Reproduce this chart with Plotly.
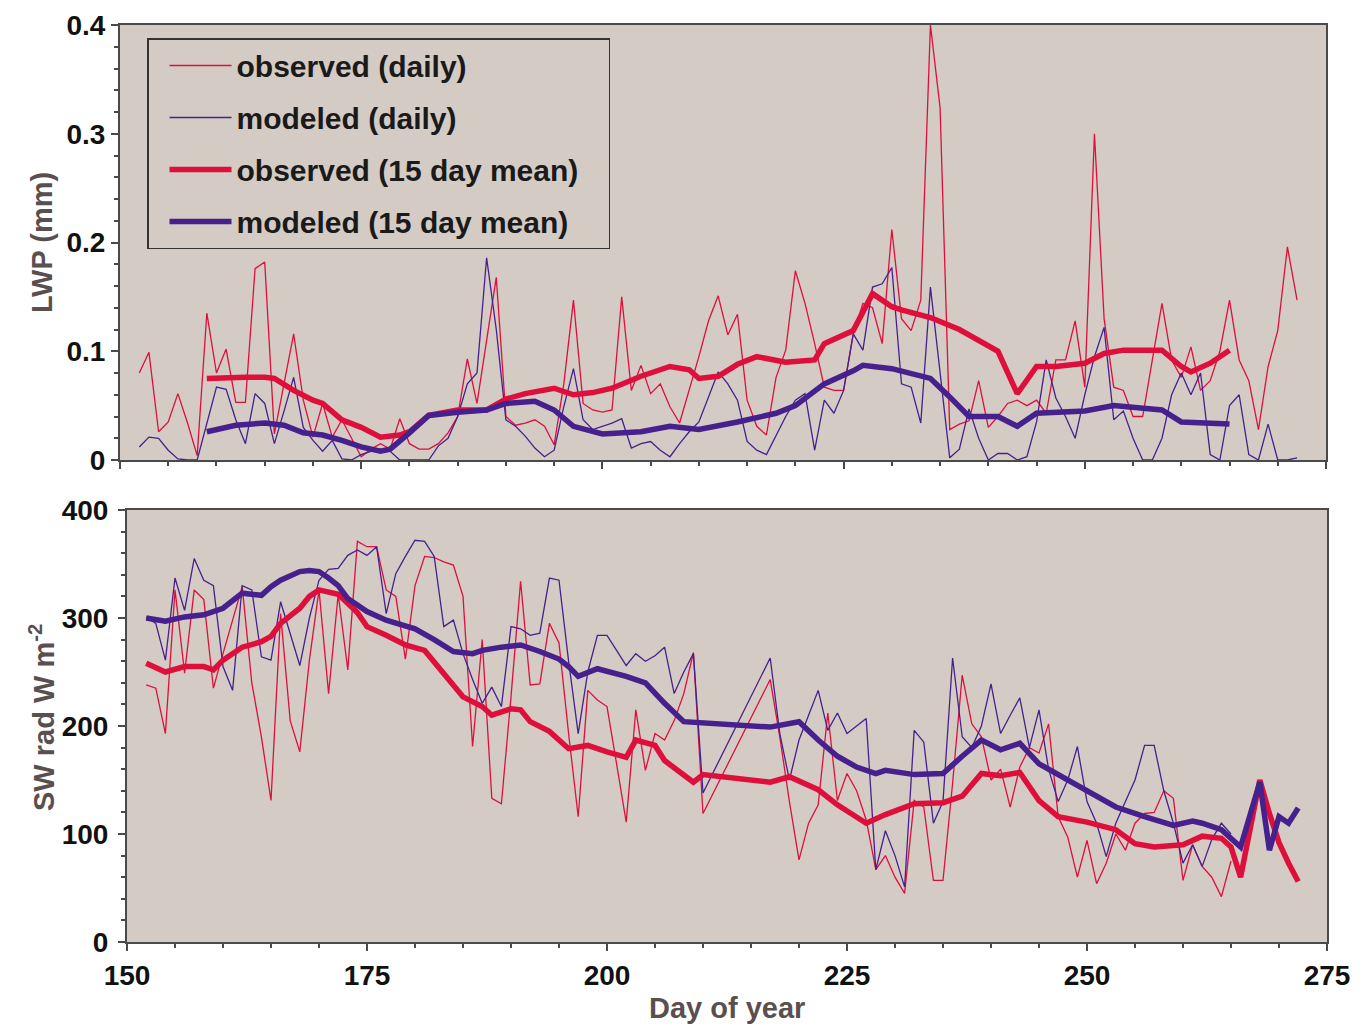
import plotly.graph_objects as go

# ---------------- data ----------------
lwp_days = [152, 153, 154, 155, 156, 157, 158, 159, 160, 161, 162, 163, 164, 165, 166, 167, 168, 169, 170,
            171, 172, 173, 174, 175, 176, 177, 178, 179, 180, 181, 182, 183, 184, 185, 186, 187, 188, 189,
            190, 191, 192, 193, 194, 195, 196, 197, 198, 199, 200, 201, 202, 203, 204, 205, 206, 207, 208,
            209, 210, 211, 212, 213, 214, 215, 216, 217, 218, 219, 220, 221, 222, 223, 224, 225, 226, 227,
            228, 229, 230, 231, 232, 233, 234, 235, 236, 237, 238, 239, 240, 241, 242, 243, 244, 245, 246,
            247, 248, 249, 250, 251, 252, 253, 254, 255, 256, 257, 258, 259, 260, 261, 262, 263, 264, 265,
            266, 267, 268, 269, 270, 271, 272]

lwp_obs_daily = [0.080, 0.099, 0.026, 0.035, 0.061, 0.034, 0.004, 0.135, 0.080, 0.102, 0.053, 0.053, 0.176,
                 0.182, 0.024, 0.070, 0.116, 0.055, 0.021, 0.052, 0.021, 0.037, 0.020, 0.003, 0.010, 0.015,
                 0.010, 0.038, 0.015, 0.010, 0.010, 0.015, 0.025, 0.040, 0.093, 0.052, 0.110, 0.168, 0.040,
                 0.032, 0.034, 0.037, 0.031, 0.014, 0.070, 0.147, 0.052, 0.046, 0.044, 0.046, 0.150, 0.064,
                 0.087, 0.061, 0.070, 0.049, 0.034, 0.064, 0.095, 0.128, 0.151, 0.115, 0.134, 0.055, 0.031,
                 0.023, 0.076, 0.101, 0.174, 0.144, 0.107, 0.067, 0.064, 0.064, 0.116, 0.144, 0.140, 0.107,
                 0.212, 0.130, 0.119, 0.147, 0.400, 0.324, 0.028, 0.033, 0.036, 0.073, 0.030, 0.040, 0.052,
                 0.055, 0.050, 0.055, 0.043, 0.092, 0.092, 0.128, 0.067, 0.300, 0.130, 0.067, 0.064, 0.040,
                 0.040, 0.092, 0.144, 0.092, 0.076, 0.104, 0.064, 0.073, 0.100, 0.147, 0.092, 0.073, 0.028,
                 0.086, 0.119, 0.196, 0.147]

lwp_mod_daily = [0.012, 0.021, 0.020, 0.009, 0.001, 0.000, 0.000, 0.034, 0.067, 0.065, 0.037, 0.015, 0.061,
                 0.052, 0.015, 0.045, 0.076, 0.030, 0.018, 0.008, 0.018, 0.001, 0.000, 0.005, 0.008, 0.010,
                 0.008, 0.000, 0.000, 0.000, 0.000, 0.013, 0.020, 0.040, 0.070, 0.080, 0.186, 0.120, 0.037,
                 0.031, 0.022, 0.011, 0.003, 0.009, 0.049, 0.084, 0.037, 0.028, 0.031, 0.034, 0.038, 0.011,
                 0.015, 0.017, 0.009, 0.003, 0.015, 0.026, 0.035, 0.058, 0.081, 0.070, 0.055, 0.017, 0.009,
                 0.005, 0.022, 0.040, 0.055, 0.061, 0.009, 0.055, 0.043, 0.064, 0.116, 0.101, 0.159, 0.162,
                 0.177, 0.070, 0.067, 0.034, 0.159, 0.080, 0.002, 0.010, 0.047, 0.020, 0.000, 0.006, 0.006,
                 0.000, 0.003, 0.035, 0.092, 0.057, 0.040, 0.020, 0.060, 0.095, 0.122, 0.037, 0.045, 0.020,
                 0.000, 0.000, 0.020, 0.060, 0.080, 0.060, 0.080, 0.005, 0.000, 0.050, 0.060, 0.005, 0.000,
                 0.033, 0.000, 0.000, 0.002]

lwp_obs_mean_days = [159, 161, 163, 165, 166, 168, 170, 171, 173, 175, 177, 179, 180, 182, 185, 188, 190,
                     192, 195, 197, 199, 201, 204, 207, 209, 210, 212, 214, 216, 219, 222, 223, 226, 228,
                     230, 231, 233, 234, 237, 239, 241, 243, 245, 247, 250, 252, 254, 258, 260, 261, 263, 265]
lwp_obs_mean = [0.075, 0.076, 0.076, 0.076, 0.075, 0.064, 0.055, 0.052, 0.037, 0.030, 0.021, 0.023, 0.026,
                0.041, 0.046, 0.046, 0.056, 0.061, 0.066, 0.060, 0.062, 0.066, 0.077, 0.086, 0.083, 0.075,
                0.077, 0.088, 0.095, 0.090, 0.092, 0.107, 0.119, 0.153, 0.141, 0.138, 0.134, 0.131, 0.120,
                0.110, 0.100, 0.061, 0.086, 0.086, 0.089, 0.098, 0.101, 0.101, 0.086, 0.081, 0.089, 0.101]

lwp_mod_mean_days = [159, 162, 165, 167, 169, 171, 173, 175, 177, 178, 180, 182, 185, 188, 190, 193, 195,
                     197, 200, 204, 207, 210, 214, 218, 220, 223, 226, 227, 230, 233, 234, 236, 238, 241,
                     243, 245, 250, 253, 258, 260, 265]
lwp_mod_mean = [0.026, 0.032, 0.034, 0.032, 0.025, 0.023, 0.018, 0.012, 0.008, 0.010, 0.025, 0.041, 0.044,
                0.046, 0.052, 0.054, 0.046, 0.031, 0.024, 0.026, 0.031, 0.028, 0.035, 0.043, 0.050, 0.070,
                0.082, 0.087, 0.084, 0.078, 0.075, 0.058, 0.040, 0.040, 0.031, 0.043, 0.045, 0.050, 0.046,
                0.035, 0.033]

sw_days = [152, 153, 154, 155, 156, 157, 158, 159, 160, 161, 162, 163, 164, 165, 166, 167, 168, 169, 170,
           171, 172, 173, 174, 175, 176, 177, 178, 179, 180, 181, 182, 183, 184, 185, 186, 187, 188, 189,
           190, 191, 192, 193, 194, 195, 196, 197, 198, 199, 200, 201, 202, 203, 204, 205, 206, 207, 208,
           209, 210, 217, 218, 219, 220, 221, 222, 223, 224, 225, 226, 227, 228, 229, 230, 231, 232, 233,
           234, 235, 236, 237, 238, 239, 240, 241, 242, 243, 244, 245, 246, 247, 248, 249, 250, 251, 252,
           253, 254, 255, 256, 257, 258, 259, 260, 261, 262, 263, 264, 265]

sw_obs_daily = [238, 235, 193, 326, 249, 326, 317, 235, 267, 298, 329, 240, 190, 131, 304, 205, 176, 261,
                326, 230, 322, 252, 371, 366, 366, 326, 320, 262, 330, 357, 356, 352, 349, 320, 181, 280,
                133, 128, 227, 334, 238, 239, 295, 277, 193, 116, 233, 224, 218, 165, 111, 215, 159, 193,
                187, 205, 230, 268, 119, 243, 190, 130, 76, 110, 127, 212, 131, 156, 140, 113, 67, 80, 60,
                45, 131, 125, 57, 57, 147, 247, 202, 190, 150, 160, 125, 162, 180, 175, 202, 116, 97, 60,
                94, 54, 73, 100, 85, 110, 119, 120, 140, 133, 57, 90, 70, 60, 42, 75]

sw_mod_daily = [301, 295, 261, 337, 307, 355, 335, 330, 255, 233, 330, 326, 264, 261, 315, 286, 256, 300,
                335, 345, 346, 358, 363, 358, 366, 304, 341, 357, 372, 371, 357, 292, 298, 267, 243, 221,
                236, 218, 292, 290, 284, 286, 337, 335, 260, 193, 250, 284, 284, 270, 256, 267, 260, 265,
                273, 230, 250, 267, 138, 263, 193, 150, 187, 210, 233, 196, 212, 193, 200, 207, 67, 103,
                80, 51, 196, 185, 110, 130, 263, 190, 180, 200, 239, 193, 210, 226, 180, 215, 160, 130, 150,
                181, 130, 110, 79, 110, 130, 150, 182, 182, 140, 110, 73, 90, 70, 95, 110, 100]

sw_obs_mean_days = [152, 154, 156, 158, 159, 160, 162, 164, 165, 166, 168, 169, 170, 172, 174, 175, 177,
                    179, 181, 183, 185, 187, 188, 190, 191, 192, 194, 196, 198, 200, 202, 203, 205, 206,
                    209, 210, 213, 217, 219, 222, 224, 227, 229, 232, 235, 237, 239, 241, 243, 245, 247,
                    250, 253, 255, 257, 260, 262, 264, 265, 266, 267, 268, 269, 270, 271, 272]
sw_obs_mean = [258, 250, 255, 255, 252, 261, 273, 278, 283, 295, 309, 320, 326, 322, 305, 292, 284, 275,
               270, 249, 227, 218, 210, 216, 215, 204, 195, 179, 182, 176, 171, 187, 182, 168, 148, 155, 152,
               148, 153, 141, 127, 110, 118, 128, 129, 135, 156, 154, 157, 131, 116, 111, 104, 91, 88, 90,
               98, 96, 88, 60, 105, 150, 119, 92, 73, 56]

sw_mod_mean_days = [152, 154, 156, 158, 160, 161, 162, 164, 165, 166, 168, 169, 170, 171, 172, 173, 175,
                    177, 179, 180, 182, 184, 186, 187, 189, 191, 193, 195, 196, 197, 199, 202, 204, 206,
                    208, 213, 217, 220, 222, 224, 226, 228, 229, 232, 235, 237, 239, 241, 243, 245, 248,
                    250, 253, 256, 259, 261, 262, 264, 266, 267, 268, 269, 270, 271, 272]
sw_mod_mean = [300, 297, 301, 303, 309, 316, 323, 321, 329, 335, 343, 344, 343, 337, 330, 318, 306, 298,
               292, 290, 280, 269, 267, 270, 273, 275, 269, 262, 255, 246, 253, 246, 240, 221, 204, 201, 199,
               204, 187, 172, 162, 156, 159, 155, 156, 172, 187, 178, 184, 165, 150, 141, 125, 116, 108, 112,
               110, 104, 88, 118, 148, 85, 116, 110, 124]

x_ticks = [150, 175, 200, 225, 250, 275]
lwp_ticks = [0, 0.1, 0.2, 0.3, 0.4]
lwp_tick_text = ["0", "0.1", "0.2", "0.3", "0.4"]
sw_ticks = [0, 100, 200, 300, 400]

assert len(lwp_days) == len(lwp_obs_daily) == len(lwp_mod_daily)
assert len(lwp_obs_mean_days) == len(lwp_obs_mean)
assert len(lwp_mod_mean_days) == len(lwp_mod_mean)
assert len(sw_days) == len(sw_obs_daily) == len(sw_mod_daily)
assert len(sw_obs_mean_days) == len(sw_obs_mean)
assert len(sw_mod_mean_days) == len(sw_mod_mean)

# ---------------- styling ----------------
W, H = 1367, 1027
RED = "#df0f3b"
BLUE = "#46208c"
BG = "#d4cbc4"
FRAME = "#4a4a4a"
TITLE_C = "#5a4f4f"
FONT = "Liberation Sans"
PAD = "\u00a0\u00a0\u00a0"  # trailing no-break spaces widen the legend box like the reference

fig = go.Figure()

# top panel
fig.add_trace(go.Scatter(x=lwp_days, y=lwp_obs_daily, mode="lines", name="observed (daily)",
                         legendgroup="g1", line=dict(color=RED, width=1.3), xaxis="x", yaxis="y"))
fig.add_trace(go.Scatter(x=lwp_days, y=lwp_mod_daily, mode="lines", name="modeled (daily)",
                         legendgroup="g2", line=dict(color=BLUE, width=1.3), xaxis="x", yaxis="y"))
fig.add_trace(go.Scatter(x=lwp_obs_mean_days, y=lwp_obs_mean, mode="lines",
                         name="observed (15 day mean)" + PAD,
                         legendgroup="g3", line=dict(color=RED, width=5.5), xaxis="x", yaxis="y"))
fig.add_trace(go.Scatter(x=lwp_mod_mean_days, y=lwp_mod_mean, mode="lines", name="modeled (15 day mean)",
                         legendgroup="g4", line=dict(color=BLUE, width=5.5), xaxis="x", yaxis="y"))

# bottom panel
fig.add_trace(go.Scatter(x=sw_days, y=sw_obs_daily, mode="lines", showlegend=False,
                         line=dict(color=RED, width=1.3), xaxis="x2", yaxis="y2"))
fig.add_trace(go.Scatter(x=sw_days, y=sw_mod_daily, mode="lines", showlegend=False,
                         line=dict(color=BLUE, width=1.3), xaxis="x2", yaxis="y2"))
fig.add_trace(go.Scatter(x=sw_obs_mean_days, y=sw_obs_mean, mode="lines", showlegend=False,
                         line=dict(color=RED, width=5.5), xaxis="x2", yaxis="y2"))
fig.add_trace(go.Scatter(x=sw_mod_mean_days, y=sw_mod_mean, mode="lines", showlegend=False,
                         line=dict(color=BLUE, width=5.5), xaxis="x2", yaxis="y2"))

tickfont = dict(family=FONT, size=28, color="#111111", weight="bold")
common_axis = dict(showgrid=False, zeroline=False, showline=True, mirror=True, linecolor=FRAME,
                   linewidth=2, ticks="outside", tickcolor=FRAME, tickwidth=1.5, ticklen=7,
                   tickfont=tickfont, automargin=False)

fig.update_layout(
    width=W, height=H,
    margin=dict(l=0, r=0, t=0, b=0, pad=0, autoexpand=False),
    paper_bgcolor="white",
    plot_bgcolor=BG,
    xaxis=dict(domain=[120 / W, 1326 / W], anchor="y", range=[150, 275], tickvals=x_ticks,
               showticklabels=False,
               minor=dict(dtick=5, ticklen=4, ticks="outside", tickcolor=FRAME), **common_axis),
    yaxis=dict(domain=[1 - 460 / H, 1 - 25 / H], anchor="x", range=[0, 0.4], tickvals=lwp_ticks,
               ticktext=lwp_tick_text, ticklabelstandoff=0,
               minor=dict(dtick=0.02, ticklen=4, ticks="outside", tickcolor=FRAME), **common_axis),
    xaxis2=dict(domain=[127 / W, 1327 / W], anchor="y2", range=[150, 275], tickvals=x_ticks,
                ticklabelstandoff=0,
                minor=dict(dtick=5, ticklen=4, ticks="outside", tickcolor=FRAME), **common_axis),
    yaxis2=dict(domain=[1 - 942 / H, 1 - 510 / H], anchor="x2", range=[0, 400], tickvals=sw_ticks,
                ticklabelstandoff=4,
                minor=dict(dtick=20, ticklen=4, ticks="outside", tickcolor=FRAME), **common_axis),
    legend=dict(x=147 / W, y=1 - 38 / H, xanchor="left", yanchor="top", bgcolor=BG,
                bordercolor="#333333", borderwidth=1.5, itemwidth=62, indentation=16,
                tracegroupgap=10,
                font=dict(family=FONT, size=30, color="#1a1a1a", weight="bold")),
    annotations=[
        dict(text="LWP (mm)", x=42 / W, y=1 - 243 / H, xref="paper", yref="paper", showarrow=False,
             textangle=-90, xanchor="center", yanchor="middle",
             font=dict(family=FONT, size=29, color=TITLE_C, weight="bold")),
        dict(text="SW rad W m<sup>-2</sup>", x=42 / W, y=1 - 718 / H, xref="paper", yref="paper",
             showarrow=False, textangle=-90, xanchor="center", yanchor="middle",
             font=dict(family=FONT, size=29, color=TITLE_C, weight="bold")),
        dict(text="Day of year", x=727 / W, y=1 - 1008 / H, xref="paper", yref="paper", showarrow=False,
             xanchor="center", yanchor="middle",
             font=dict(family=FONT, size=29, color=TITLE_C, weight="bold")),
    ],
)

fig.write_html("out.html")
